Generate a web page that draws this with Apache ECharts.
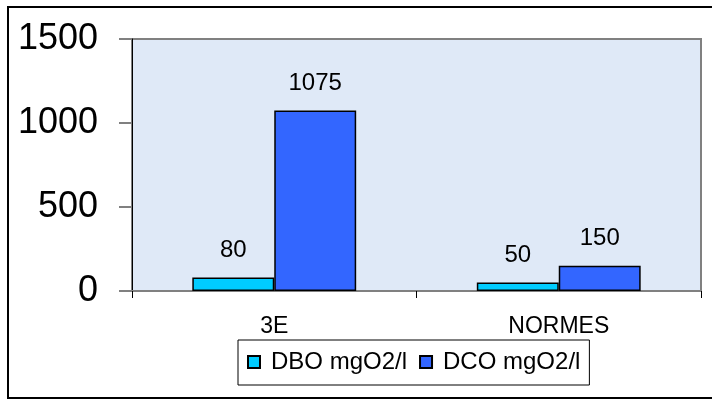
<!DOCTYPE html>
<html>
<head>
<meta charset="utf-8">
<style>
  html, body { margin: 0; padding: 0; background: #ffffff; }
  #chart { width: 712px; height: 399px; }
</style>
<script src="https://cdn.jsdelivr.net/npm/echarts@6/dist/echarts.min.js"></script>
</head>
<body>
<div id="chart"></div>
<script>
// Categories and measured values (mg O2 per litre)
const categories = ['3E', 'NORMES'];
const dboValues = [80, 50];
const dcoValues = [1075, 150];
const seriesNames = ['DBO mgO2/l', 'DCO mgO2/l'];
const yTicks = { min: 0, max: 1500, interval: 500 };

const FONT = '"Liberation Sans", Arial, sans-serif';

const chart = echarts.init(document.getElementById('chart'), null, { renderer: 'canvas' });

const barLabel = {
  show: true,
  position: 'top',
  distance: 15,
  color: '#000',
  fontSize: 24,
  fontFamily: FONT
};

chart.setOption({
  animation: false,
  backgroundColor: '#ffffff',
  graphic: [{
    type: 'rect',
    shape: { x: 8, y: 7, width: 720, height: 391 },
    style: { fill: 'none', stroke: '#000', lineWidth: 2 },
    z: -10
  }],
  grid: {
    left: 132,
    right: 11,
    top: 39,
    bottom: 108,
    show: true,
    backgroundColor: '#dfe9f7',
    borderColor: '#808080',
    borderWidth: 2
  },
  legend: {
    data: seriesNames,
    left: 238,
    top: 340,
    padding: [10, 9, 11, 9],
    itemGap: 12,
    itemWidth: 12,
    itemHeight: 12,
    icon: 'rect',
    borderColor: '#000',
    borderWidth: 1,
    backgroundColor: '#fff',
    textStyle: { color: '#000', fontSize: 24, fontFamily: FONT, padding: [0, 0, 0, 6] }
  },
  xAxis: {
    type: 'category',
    data: categories,
    boundaryGap: true,
    axisLine: { lineStyle: { color: '#808080', width: 2 } },
    axisTick: { show: true, length: 7, lineStyle: { color: '#000' } },
    axisLabel: { color: '#000', fontSize: 23, fontFamily: FONT, margin: 24 }
  },
  yAxis: {
    type: 'value',
    min: yTicks.min,
    max: yTicks.max,
    interval: yTicks.interval,
    splitLine: { show: false },
    axisLine: { show: true, lineStyle: { color: '#000', width: 1 } },
    axisTick: { show: true, inside: false, length: 13, lineStyle: { color: '#808080', width: 2 } },
    axisLabel: {
      color: '#000', fontSize: 36, fontFamily: FONT, margin: 34,
      formatter: (v) => String(v)
    }
  },
  series: [
    {
      name: seriesNames[0],
      type: 'bar',
      data: dboValues,
      barWidth: '28.8%',
      barGap: '0%',
      itemStyle: { color: '#00ccff', borderColor: '#000', borderWidth: 1.5 },
      label: barLabel
    },
    {
      name: seriesNames[1],
      type: 'bar',
      data: dcoValues,
      barWidth: '28.8%',
      itemStyle: { color: '#3366ff', borderColor: '#000', borderWidth: 1.5 },
      label: barLabel
    }
  ]
});
</script>
</body>
</html>
